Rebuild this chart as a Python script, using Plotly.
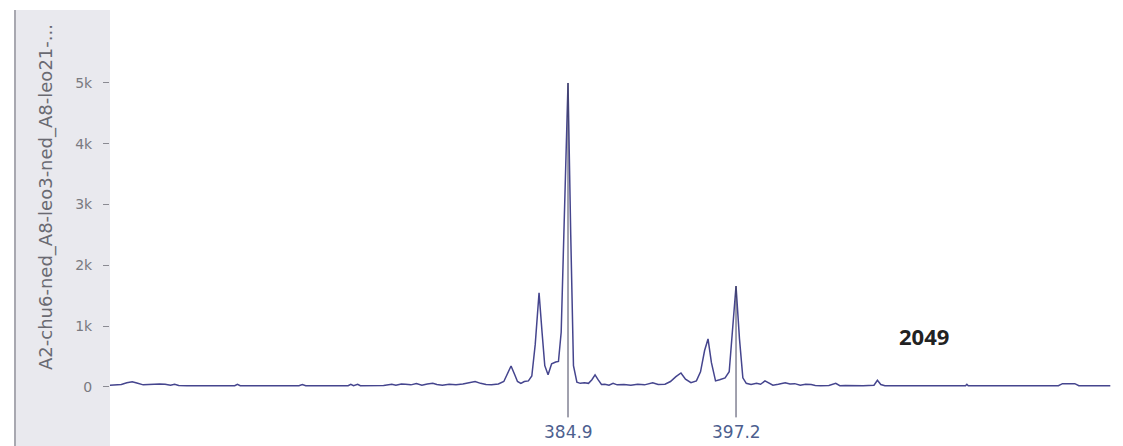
import plotly.graph_objects as go

# ---- data ----
size_bp = [351.2, 351.7, 352.2, 352.6, 353.0, 353.4, 353.8, 354.2, 354.6, 355.0,
           355.4, 355.8, 356.1, 356.4, 357.0, 360.5, 360.7, 360.9, 365.2, 365.45,
           365.7, 368.8, 369.0, 369.2, 369.5, 369.7, 371.4, 371.7, 372.0, 372.3,
           372.7, 373.0, 373.4, 373.8, 374.2, 374.6, 375.0, 375.3, 375.7, 376.2,
           376.7, 377.2, 377.7, 378.1, 378.5, 378.9, 379.3, 379.8, 380.2, 380.5,
           380.73, 381.0, 381.2, 381.45, 381.7, 382.0, 382.25, 382.5, 382.78, 383.0,
           383.2, 383.44, 383.7, 384.0, 384.2, 384.4, 384.65, 384.9, 385.1, 385.3,
           385.55, 385.8, 386.1, 386.4, 386.65, 386.88, 387.1, 387.35, 387.6, 387.9,
           388.2, 388.5, 389.0, 389.5, 390.0, 390.5, 391.1, 391.5, 392.0, 392.4,
           392.8, 393.17, 393.5, 393.9, 394.3, 394.6, 394.9, 395.15, 395.4, 395.7,
           396.0, 396.4, 396.7, 396.95, 397.2, 397.45, 397.7, 397.95, 398.3, 398.7,
           399.0, 399.32, 399.6, 399.9, 400.3, 400.8, 401.15, 401.5, 401.9, 402.3,
           402.7, 403.0, 403.4, 404.0, 404.5, 404.8, 405.2, 406.5, 407.3, 407.55,
           407.8, 408.1, 414.0, 414.1, 414.2, 420.8, 421.1, 422.0, 422.3, 424.6]
signal = [25, 30, 40, 70, 85, 60, 35, 40, 50, 50,
          45, 30, 45, 25, 20, 20, 45, 20, 20, 40,
          20, 20, 45, 20, 45, 20, 25, 40, 45, 30,
          50, 45, 35, 55, 30, 50, 60, 40, 30, 45,
          35, 50, 70, 90, 60, 40, 35, 50, 90, 230,
          345, 200, 90, 60, 90, 100, 180, 700, 1550, 900,
          350, 200, 380, 410, 420, 900, 3000, 5000, 2500, 350,
          80, 60, 70, 60, 120, 200, 120, 40, 45, 30,
          60, 35, 40, 30, 45, 35, 70, 40, 45, 90,
          170, 230, 130, 70, 100, 250, 600, 790, 400, 100,
          120, 150, 250, 900, 1660, 800, 150, 60, 40, 60,
          45, 100, 60, 30, 45, 70, 50, 55, 30, 45,
          40, 25, 20, 25, 60, 20, 25, 20, 30, 110,
          40, 20, 20, 45, 20, 20, 55, 55, 20, 20]

peak_sizes = [384.9, 397.2]
peak_labels = ["384.9", "397.2"]
y_tick_vals = [0, 1000, 2000, 3000, 4000, 5000]
y_tick_text = ["0", "1k", "2k", "3k", "4k", "5k"]
sample_name = "A2-chu6-ned_A8-leo3-ned_A8-leo21-..."
score_text = "2049"
score_pos = 409.0

# ---- figure (page body has an 8px margin, so the figure is 8px smaller) ----
OFF = 8
W, H = 1123 - OFF, 446 - OFF
ML, MR, MT, MB = 110 - OFF, 0, 10 - OFF, 26
plot_w = W - ML - MR
plot_h = H - MT - MB


def px_x(px):  # reference-screen x pixel -> paper fraction
    return (px - OFF - ML) / plot_w


def px_y(py):  # reference-screen y pixel -> paper fraction
    return (H - MB - (py - OFF)) / plot_h


fig = go.Figure()
fig.add_trace(go.Scatter(
    x=size_bp, y=signal, mode="lines",
    line=dict(color="#45458e", width=1.5),
    hoverinfo="x+y", showlegend=False,
))

shapes = [
    dict(type="rect", xref="paper", yref="paper",
         x0=px_x(14), x1=px_x(110), y0=px_y(446), y1=px_y(10),
         fillcolor="#e9e9ee", line=dict(width=0), layer="below"),
    dict(type="line", xref="paper", yref="paper",
         x0=px_x(15), x1=px_x(15), y0=px_y(446), y1=px_y(10),
         line=dict(color="#a8a8b0", width=2)),
]
annotations = []
for pk, lab in zip(peak_sizes, peak_labels):
    i = size_bp.index(pk)
    shapes.append(dict(type="line", xref="x", yref="y",
                       x0=pk, x1=pk, y0=signal[i], y1=-500,
                       line=dict(color="#44445e", width=1)))
    annotations.append(dict(x=pk, y=px_y(432), xref="x", yref="paper",
                            text=lab, showarrow=False, yanchor="middle",
                            font=dict(family="DejaVu Sans", size=17, color="#4d5f8f")))

annotations.append(dict(x=px_x(33), y=px_y(197), xref="paper", yref="paper",
                        text=sample_name, textangle=-90, showarrow=False,
                        font=dict(family="DejaVu Sans", size=18, color="#6a6a72")))
annotations.append(dict(x=score_pos, y=px_y(336), xref="x", yref="paper",
                        text="<b>" + score_text + "</b>", showarrow=False,
                        xanchor="left", yanchor="middle",
                        font=dict(family="Open Sans", size=22, color="#222222")))

fig.update_layout(
    width=W, height=H,
    margin=dict(l=ML, r=MR, t=MT, b=MB),
    paper_bgcolor="white", plot_bgcolor="white",
    shapes=shapes, annotations=annotations,
    xaxis=dict(range=[351.37, 425.53], visible=False, showgrid=False, zeroline=False),
    yaxis=dict(range=[-543, 6200], tickvals=y_tick_vals, ticktext=y_tick_text,
               ticks="outside", ticklen=6, tickcolor="#8a8a92",
               ticklabelstandoff=8,
               tickfont=dict(family="DejaVu Sans", size=14, color="#7a7a80"),
               showgrid=False, zeroline=False, showline=False),
)

fig.write_html("out.html")
